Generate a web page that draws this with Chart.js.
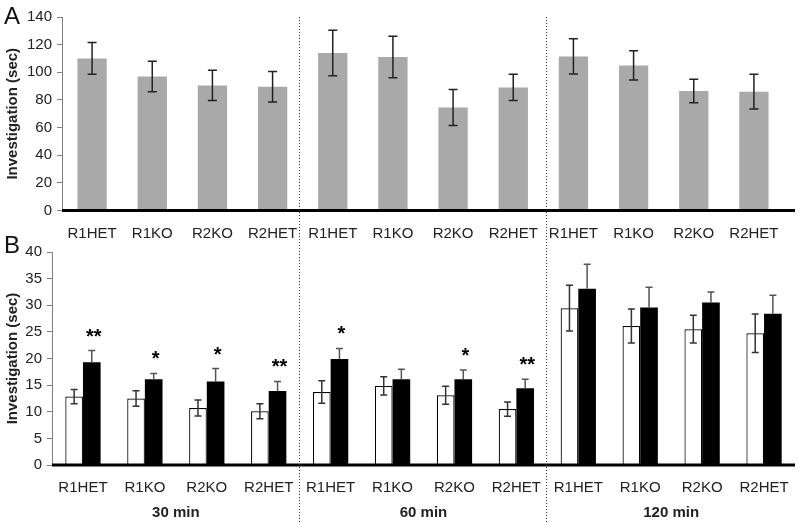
<!DOCTYPE html>
<html>
<head>
<meta charset="utf-8">
<script src="https://cdn.jsdelivr.net/npm/chart.js@4.4.1/dist/chart.umd.min.js"></script>
<style>
  html, body { margin: 0; padding: 0; background: #fff; }
  #wrap { position: relative; width: 800px; height: 523px; overflow: hidden; }
  #wrap canvas { position: absolute; left: 0; top: 0; }
  .panel { position: absolute; font: 24px 'Liberation Sans', Arial, sans-serif; line-height: 1; color: #111; }
</style>
</head>
<body>
<div id="wrap">
  <canvas id="chartB" width="800" height="523"></canvas>
  <canvas id="chartA" width="800" height="245"></canvas>
  <div class="panel" style="left:4px; top:4px;">A</div>
  <div class="panel" style="left:4px; top:233px;">B</div>
</div>
<script>
// ---- data ----
const groups = ['R1HET', 'R1KO', 'R2KO', 'R2HET'];
const categories = groups.concat(groups, groups);
const timeLabels = ['30 min', '60 min', '120 min'];

// panel A: total investigation
const totalMean = [110, 97, 90.5, 89.5, 114, 111, 74.5, 89, 111.5, 105, 86.5, 86];
const totalErr = [11.5, 11, 11, 11, 16.5, 15, 13, 9.5, 12.8, 10.5, 8.5, 12.5];

// panel B: white and black bars
const whiteMean = [12.85, 12.5, 10.7, 10.1, 13.7, 14.85, 13.1, 10.5, 29.45, 26.1, 25.5, 24.75];
const whiteErr = [1.35, 1.45, 1.5, 1.4, 2.1, 1.7, 1.7, 1.35, 4.3, 3.2, 2.6, 3.6];
const blackMean = [19.3, 16.1, 15.7, 13.9, 19.9, 16.1, 16.1, 14.4, 33.1, 29.6, 30.5, 28.4];
const blackErr = [2.2, 1.1, 2.4, 1.8, 2.0, 1.9, 1.75, 1.7, 4.6, 3.8, 2.0, 3.5];
const stars = ['**', '*', '*', '**', '*', '', '*', '**', '', '', '', ''];

const yMaxA = 140, yStepA = 20;
const yMaxB = 40, yStepB = 5;

Chart.defaults.font.family = "'Liberation Sans', Arial, sans-serif";
Chart.defaults.color = '#222';

// === PLUGINS ===
const errorBars = {
  id: 'errorBars',
  afterDatasetsDraw(chart) {
    const ctx = chart.ctx;
    const y = chart.scales.y;
    chart.data.datasets.forEach(function(ds, i) {
      if (!ds.errors) return;
      const meta = chart.getDatasetMeta(i);
      ctx.save();
      ctx.strokeStyle = ds.errorColor;
      ctx.lineWidth = 1.5;
      meta.data.forEach(function(bar, j) {
        const v = ds.data[j], e = ds.errors[j];
        const top = y.getPixelForValue(v + e);
        const bot = ds.errorUpOnly ? bar.y : y.getPixelForValue(v - e);
        const cap = ds.capHalf;
        ctx.beginPath();
        ctx.moveTo(bar.x, top); ctx.lineTo(bar.x, bot);
        ctx.moveTo(bar.x - cap, top); ctx.lineTo(bar.x + cap, top);
        if (!ds.errorUpOnly) {
          ctx.moveTo(bar.x - cap, bot); ctx.lineTo(bar.x + cap, bot);
        }
        ctx.stroke();
      });
      ctx.restore();
    });
  }
};

const baseline = {
  id: 'baseline',
  afterDatasetsDraw(chart) {
    const ctx = chart.ctx;
    const y0 = chart.scales.y.getPixelForValue(0);
    ctx.save();
    ctx.strokeStyle = '#000';
    ctx.lineWidth = 3;
    ctx.beginPath();
    ctx.moveTo(chart.chartArea.left, y0);
    ctx.lineTo(chart.width - 5, y0);
    ctx.stroke();
    ctx.restore();
  }
};

const starLabels = {
  id: 'starLabels',
  afterDatasetsDraw(chart) {
    const ctx = chart.ctx;
    const ds = chart.data.datasets[1];
    const meta = chart.getDatasetMeta(1);
    ctx.save();
    ctx.fillStyle = '#000';
    ctx.font = "bold 20px 'Liberation Sans', Arial, sans-serif";
    ctx.textAlign = 'center';
    ctx.textBaseline = 'alphabetic';
    meta.data.forEach(function(bar, j) {
      if (!stars[j]) return;
      const top = chart.scales.y.getPixelForValue(ds.data[j] + ds.errors[j]);
      ctx.fillText(stars[j], bar.x + 2, top - 8);
    });
    ctx.restore();
  }
};

function yAxis(max, step, width) {
  return {
    min: 0, max: max,
    afterFit: function(s) { s.width = width; },
    ticks: { stepSize: step, padding: 5, font: { size: 15 }, color: '#222' },
    grid: { drawOnChartArea: false, drawTicks: true, tickLength: 5, color: '#808080' },
    border: { display: true, color: '#808080', width: 1 },
    title: { display: true, text: 'Investigation (sec)', font: { size: 15, weight: 'bold' }, color: '#222' }
  };
}

// === PANEL A ===
const chartA = new Chart(document.getElementById('chartA'), {
  type: 'bar',
  data: {
    labels: categories,
    datasets: [{
      data: totalMean,
      errors: totalErr,
      errorColor: '#222',
      capHalf: 4.5,
      backgroundColor: '#a9a9a9',
      borderWidth: 0,
      categoryPercentage: 1,
      barPercentage: 0.487
    }]
  },
  options: {
    responsive: false,
    animation: false,
    layout: { padding: { top: 17, right: 16, left: 0, bottom: 0 } },
    plugins: { legend: { display: false }, tooltip: { enabled: false } },
    scales: {
      x: {
        afterFit: function(s) { s.height = 34.5; },
        grid: { display: false },
        border: { display: false },
        ticks: { padding: 6, font: { size: 15 }, color: '#222', maxRotation: 0, autoSkip: false }
      },
      y: yAxis(yMaxA, yStepA, 62)
    }
  },
  plugins: [errorBars, baseline]
});

// === PANEL B ===
const dividers = {
  id: 'dividers',
  afterDraw(chart) {
    const ctx = chart.ctx;
    const x = chart.scales.x;
    const top = chartA.chartArea.top;
    ctx.save();
    ctx.strokeStyle = '#333';
    ctx.lineWidth = 1;
    ctx.setLineDash([1, 2]);
    [1, 2].forEach(function(g) {
      const k = g * groups.length;
      const px = Math.round((x.getPixelForValue(k - 1) + x.getPixelForValue(k)) / 2) - 0.5;
      ctx.beginPath();
      ctx.moveTo(px, top);
      ctx.lineTo(px, chart.height);
      ctx.stroke();
    });
    ctx.restore();
  }
};

new Chart(document.getElementById('chartB'), {
  type: 'bar',
  data: {
    labels: categories,
    datasets: [{
      data: whiteMean,
      errors: whiteErr,
      errorColor: '#333',
      capHalf: 3.5,
      backgroundColor: '#fff',
      borderColor: '#000',
      borderWidth: 1.2,
      categoryPercentage: 0.57,
      barPercentage: 1
    }, {
      data: blackMean,
      errors: blackErr,
      errorColor: '#555',
      errorUpOnly: true,
      capHalf: 3.5,
      backgroundColor: '#000',
      borderWidth: 0,
      categoryPercentage: 0.57,
      barPercentage: 1
    }]
  },
  options: {
    responsive: false,
    animation: false,
    layout: { padding: { top: 252, right: 5, left: 0, bottom: 0 } },
    plugins: { legend: { display: false }, tooltip: { enabled: false } },
    scales: {
      x: {
        weight: 0,
        afterFit: function(s) { s.height = 27; },
        grid: { display: false },
        border: { display: false },
        ticks: { padding: 6, font: { size: 15 }, color: '#222', maxRotation: 0, autoSkip: false }
      },
      x2: {
        type: 'category',
        labels: timeLabels,
        position: 'bottom',
        offset: true,
        weight: 1,
        afterFit: function(s) { s.height = 31; },
        grid: { display: false },
        border: { display: false },
        ticks: { padding: 4, font: { size: 15, weight: 'bold' }, color: '#222', maxRotation: 0 }
      },
      y: yAxis(yMaxB, yStepB, 52)
    }
  },
  plugins: [errorBars, baseline, starLabels, dividers]
});
</script>
</body>
</html>
